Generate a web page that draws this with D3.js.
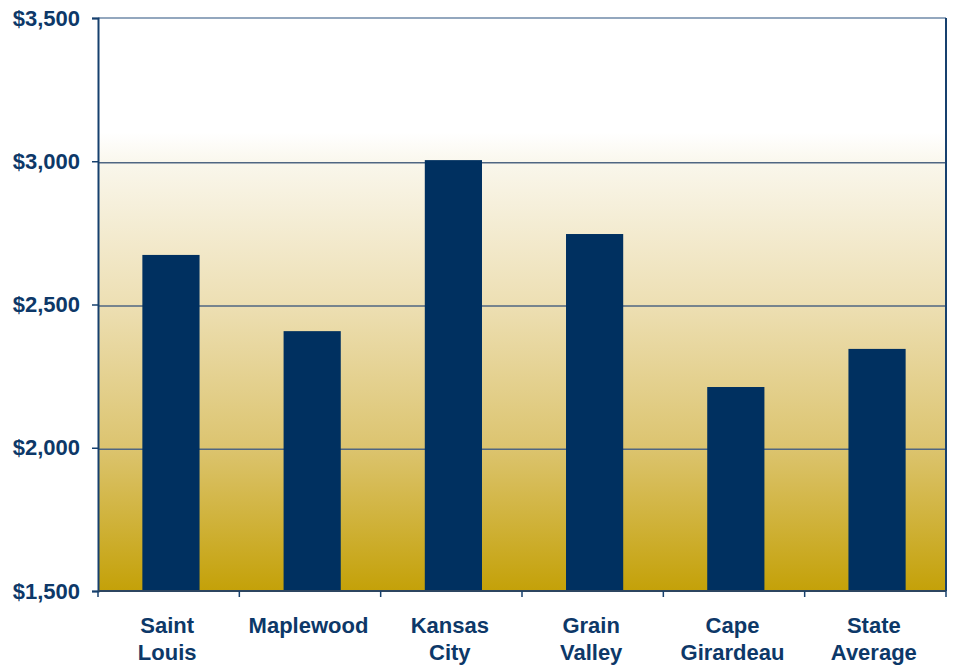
<!DOCTYPE html>
<html>
<head>
<meta charset="utf-8">
<script src="https://cdn.jsdelivr.net/npm/d3@7"></script>
<style>
  html, body { margin: 0; padding: 0; background: #ffffff; }
  svg { display: block; }
  text { font-family: "Liberation Sans", Arial, sans-serif; font-weight: bold; fill: #0d3868; }
</style>
</head>
<body>
<svg id="chart" width="953" height="665"></svg>
<script>
// Cost per city (US dollars)
const categories = [["Saint", "Louis"], ["Maplewood"], ["Kansas", "City"], ["Grain", "Valley"], ["Cape", "Girardeau"], ["State", "Average"]];
const values = [2673, 2407, 3004, 2746, 2212, 2345];
const yTicks = [1500, 2000, 2500, 3000, 3500];

const svg = d3.select("#chart");
const plotLeft = 98, plotRight = 946, plotTop = 18, plotBottom = 591;

const x = d3.scaleBand()
  .domain(d3.range(categories.length))
  .range([plotLeft, plotRight])
  .paddingInner(0.595)
  .paddingOuter(0.3);

const y = d3.scaleLinear().domain([1500, 3500]).range([plotBottom, plotTop]);

// Background gradient: white at the top fading into gold at the base
const defs = svg.append("defs");
const grad = defs.append("linearGradient")
  .attr("id", "bg").attr("x1", 0).attr("y1", 0).attr("x2", 0).attr("y2", 1);
[[0, "#ffffff"], [0.2, "#ffffff"], [0.26, "#f9f6ea"], [0.5, "#eddfb3"], [0.75, "#dcc46f"], [1, "#c4a108"]]
  .forEach(([o, c]) => grad.append("stop").attr("offset", o).attr("stop-color", c));

svg.append("rect")
  .attr("x", plotLeft).attr("y", plotTop)
  .attr("width", plotRight - plotLeft).attr("height", plotBottom - plotTop)
  .attr("fill", "url(#bg)");

// Horizontal gridlines
svg.append("g")
  .selectAll("line")
  .data(yTicks.filter(d => d > 1500 && d < 3500))
  .join("line")
  .attr("x1", plotLeft).attr("x2", plotRight)
  .attr("y1", d => y(d) + 1.5).attr("y2", d => y(d) + 1.5)
  .attr("stroke", "#4f6682").attr("stroke-width", 1.5);

// Top border
svg.append("line")
  .attr("x1", plotLeft).attr("x2", plotRight)
  .attr("y1", plotTop).attr("y2", plotTop)
  .attr("stroke", "#6f8aa8").attr("stroke-width", 1.5);

// Right border
svg.append("line")
  .attr("x1", plotRight).attr("x2", plotRight)
  .attr("y1", plotTop).attr("y2", plotBottom)
  .attr("stroke", "#16406e").attr("stroke-width", 2);

// Bars
svg.append("g")
  .selectAll("rect")
  .data(values)
  .join("rect")
  .attr("x", (d, i) => x(i) + 2)
  .attr("y", d => y(d))
  .attr("width", x.bandwidth())
  .attr("height", d => plotBottom - y(d))
  .attr("fill", "#003060");

// Y axis
const yAxis = svg.append("g")
  .attr("transform", `translate(${plotLeft},0)`)
  .call(d3.axisLeft(y).tickValues(yTicks).tickSize(6).tickPadding(12)
    .tickFormat(d => "$" + d3.format(",")(d)));
yAxis.select(".domain").attr("stroke", "#16406e").attr("stroke-width", 2);
yAxis.selectAll(".tick line").attr("stroke", "#16406e").attr("stroke-width", 1.5);
yAxis.selectAll(".tick text")
  .attr("font-size", 22).attr("fill", "#0d3868")
  .attr("font-family", "Liberation Sans, Arial, sans-serif").attr("font-weight", "bold");

// X axis with ticks at category boundaries
const step = (plotRight - plotLeft) / categories.length;
const xb = d3.scaleLinear().domain([0, categories.length]).range([plotLeft, plotRight]);
svg.append("line")
  .attr("x1", plotLeft).attr("x2", plotRight)
  .attr("y1", plotBottom).attr("y2", plotBottom)
  .attr("stroke", "#2c4560").attr("stroke-width", 2);
svg.append("g")
  .selectAll("line")
  .data(d3.range(categories.length + 1))
  .join("line")
  .attr("x1", d => xb(d)).attr("x2", d => xb(d))
  .attr("y1", plotBottom).attr("y2", plotBottom + 6)
  .attr("stroke", "#16406e").attr("stroke-width", 1.5);

// Category labels
const labels = svg.append("g")
  .selectAll("text")
  .data(categories)
  .join("text")
  .attr("text-anchor", "middle")
  .attr("font-size", 22)
  .attr("x", (d, i) => xb(i) + step / 2 - 1.5)
  .attr("y", 633);
labels.selectAll("tspan")
  .data(d => d)
  .join("tspan")
  .attr("x", function () { return d3.select(this.parentNode).attr("x"); })
  .attr("dy", (d, i) => i === 0 ? 0 : 27)
  .text(d => d);
</script>
</body>
</html>
